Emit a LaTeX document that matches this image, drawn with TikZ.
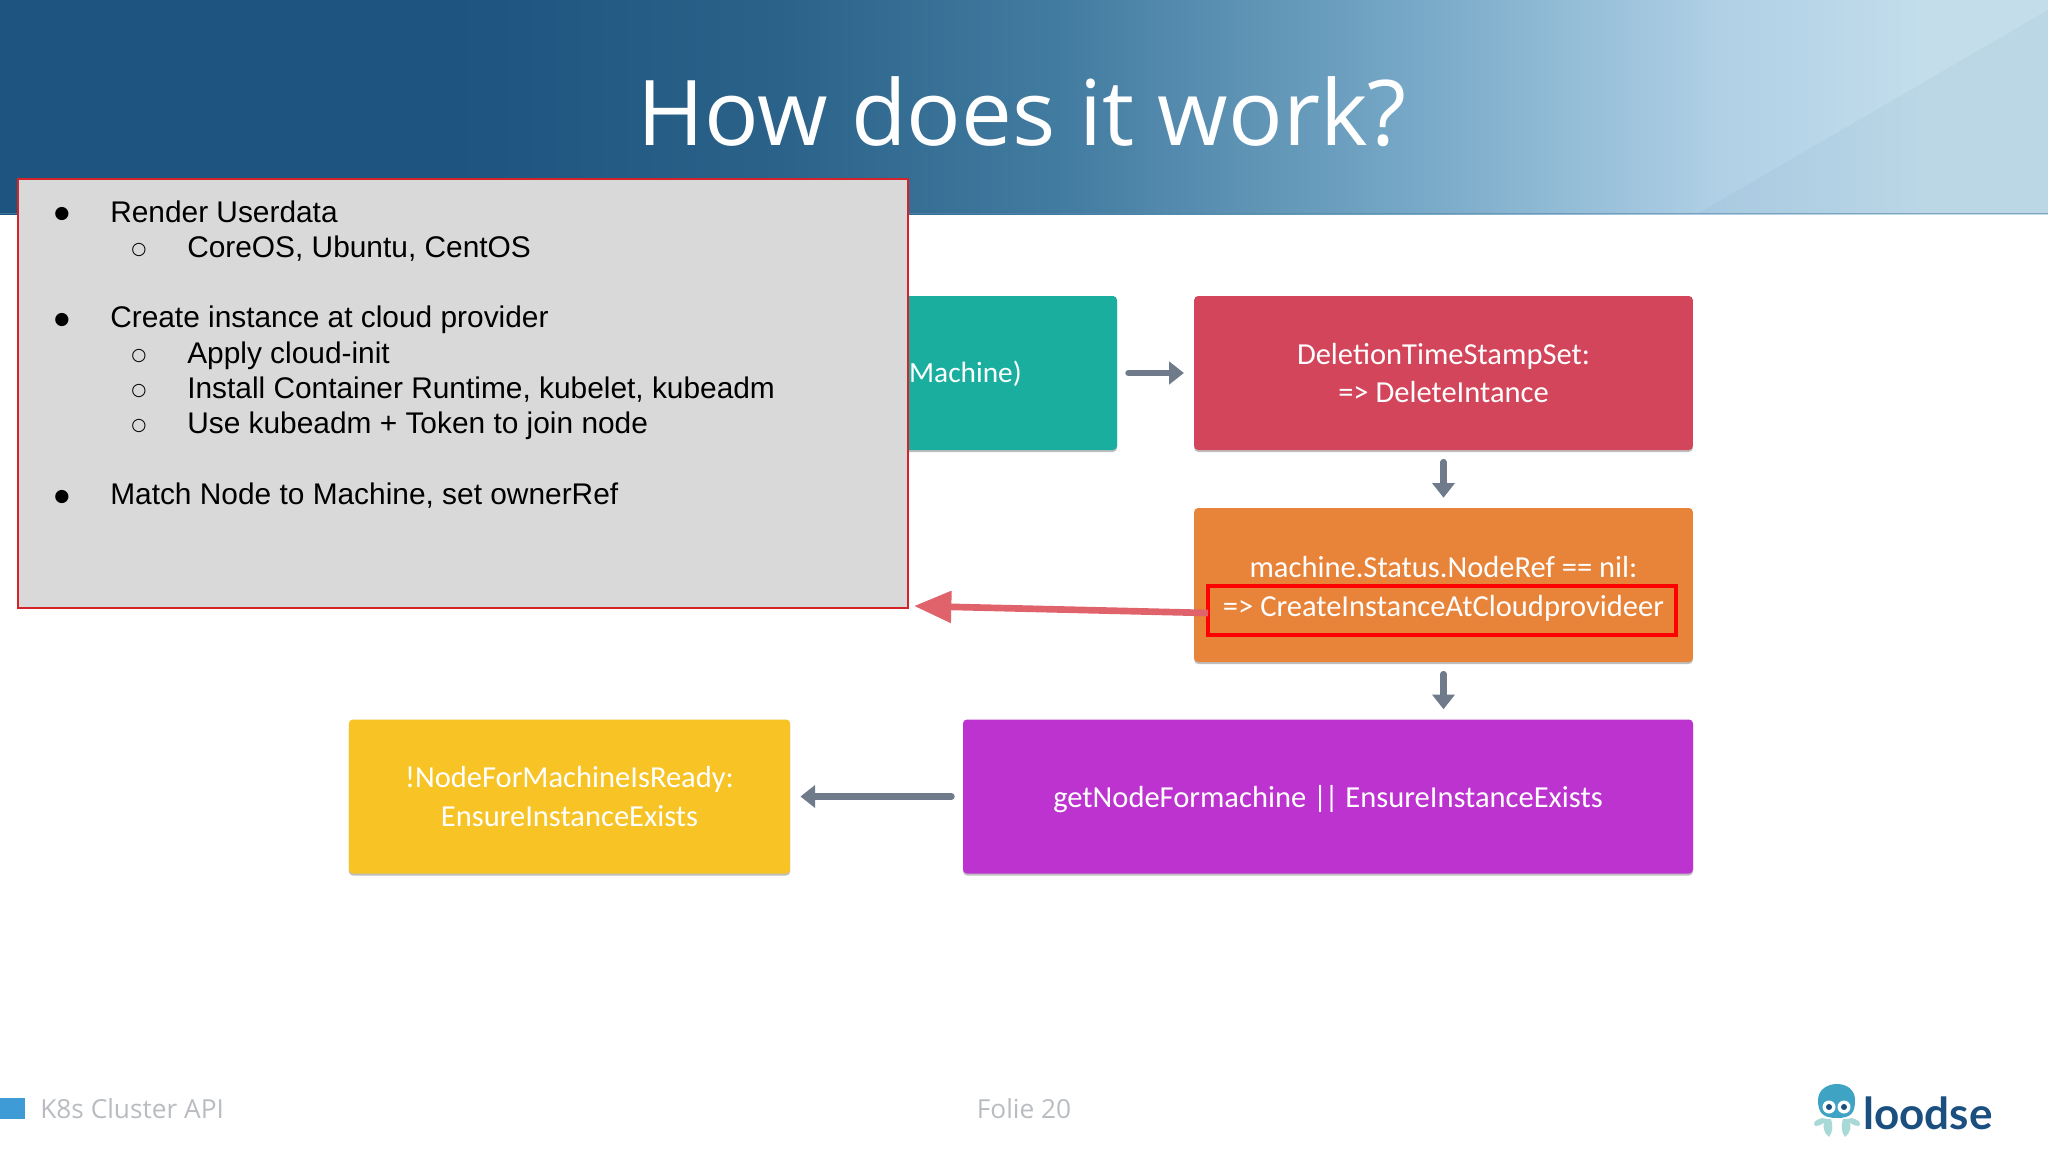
\documentclass[tikz,border=0pt]{standalone}
\usepackage{fontspec}
\setmainfont{Liberation Sans}
\newfontfamily\titlefont{Open Sans}
\newfontfamily\dinfont{Carlito}
\newfontfamily\symfont{DejaVu Sans}
\newfontfamily\logofont{Lato}
\usetikzlibrary{arrows.meta,shadows}
\definecolor{hdA}{HTML}{1D5480}
\definecolor{hdB}{HTML}{2A6289}
\definecolor{hdC}{HTML}{437CA1}
\definecolor{hdD}{HTML}{7AABC9}
\definecolor{hdE}{HTML}{B0D0E6}
\definecolor{hdF}{HTML}{C3DDEB}
\definecolor{flowGrey}{HTML}{6F7B8A}
\definecolor{callRed}{HTML}{E0636B}
\definecolor{frameRed}{HTML}{D5232A}
\definecolor{panelGrey}{HTML}{D9D9D9}
\definecolor{tealBox}{HTML}{1AAE9F}
\definecolor{roseBox}{HTML}{D3455B}
\definecolor{orangeBox}{HTML}{E8833A}
\definecolor{purpleBox}{HTML}{BD33D0}
\definecolor{yellowBox}{HTML}{F7C325}
\definecolor{footGrey}{HTML}{B9BDC1}
\definecolor{footBlue}{HTML}{3E9BD6}
\definecolor{logoBlue}{HTML}{1B4F7F}
\definecolor{logoTeal}{HTML}{3FA3C4}
\definecolor{logoMint}{HTML}{A9D9D6}
\pgfdeclarehorizontalshading{headband}{100bp}{
  color(0bp)=(hdA); color(36bp)=(hdA); color(44bp)=(hdB); color(51bp)=(hdC);
  color(60bp)=(hdD); color(67bp)=(hdE); color(72bp)=(hdF); color(100bp)=(hdF)}
\tikzset{
  flowbox/.style={rounded corners=3pt,minimum height=115.5pt,inner sep=0pt,align=center,
    text=white,font=\dinfont\fontsize{22.9}{29}\selectfont,
    drop shadow={shadow xshift=0pt,shadow yshift=-1.5pt,opacity=.25,fill=black}},
  flowarrow/.style={draw=flowGrey,line width=5pt,line cap=round,-{Triangle[length=11pt,width=16.5pt]}},
  bodytext/.style={anchor=base west,inner sep=0pt,font=\fontsize{22.4}{26}\selectfont,text=black},
  bulletmark/.style={anchor=base,inner sep=0pt,font=\symfont\fontsize{13}{16}\selectfont,text=black},
  foot/.style={inner sep=0pt,text=footGrey,font=\titlefont\fontsize{19.7}{24}\selectfont},
  x=0.75pt,y=-0.75pt
}
\begin{document}
\begin{tikzpicture}
\useasboundingbox (0,0) rectangle (2048,1152);
\fill[white] (0,0) rectangle (2048,1152);
% header
\shade[shading=headband] (0,0) rectangle (2048,214);
\fill[hdC,opacity=.06] (1697,214) -- (2048,10) -- (2048,214) -- cycle;
\fill[hdA!60!hdE,opacity=.6] (0,212.5) rectangle (2048,214);
\node[inner sep=0pt,text=white,font=\titlefont\fontsize{68}{80}\selectfont] (title) at (1022,112) {How does it work?};
% flow boxes
\node[flowbox,fill=tealBox,minimum width=300pt] (teal) at (917,373) {};
\node[flowbox,fill=roseBox,minimum width=374pt] (rose) at (1443.5,373) {DeletionTimeStampSet:\\=> DeleteIntance};
\node[flowbox,fill=orangeBox,minimum width=374pt] (orange) at (1443.5,585) {\rule{0pt}{21.5pt}machine.Status.NodeRef == nil:\\[0pt]=> CreateInstanceAtCloudprovideer};
\node[flowbox,fill=purpleBox,minimum width=547.5pt] (purple) at (1328,796.5) {\rule{0pt}{20.8pt}getNodeFormachine |\kern-2pt| EnsureInstanceExists};
\node[flowbox,fill=yellowBox,minimum width=331pt] (yellow) at (569.5,796.5) {!NodeForMachineIsReady:\\EnsureInstanceExists};
\node[inner sep=0pt,anchor=east,text=white,font=\dinfont\fontsize{22}{29}\selectfont] (machine) at (1022,374) {Machine)};
% connectors
\draw[flowarrow] ([xshift=8.5pt]teal.east) -- ([xshift=-7.5pt]rose.west);
\draw[flowarrow] ([yshift=-9pt]rose.south) -- ([yshift=7.5pt]orange.north);
\draw[flowarrow] ([yshift=-9pt]orange.south) -- ([yshift=7.5pt]orange.south |- purple.north);
\draw[flowarrow] ([xshift=-8.5pt]purple.west) -- ([xshift=7.5pt]yellow.east);
% call-out panel
\node[draw=frameRed,line width=1.5pt,fill=panelGrey,inner sep=0pt,minimum width=667pt,minimum height=321.5pt] (panel) at (463,393.5) {};
\node[draw=red,line width=2.8pt,inner sep=0pt,minimum width=351pt,minimum height=36.75pt] (hilite) at (1442,610.5) {};
\coordinate (calltail) at (1208,613);
\coordinate (calltip) at (914,606);
\draw[draw=callRed,line width=5pt,-{Triangle[length=28pt,width=23pt]}] (calltail) -- (calltip);
% bullet text
\node[bulletmark] (b1) at (62,219) {●};
\node[bodytext] (t1) at (110,222) {Render Userdata};
\node[bulletmark] (b2) at (139,254) {○};
\node[bodytext] (t2) at (187,257) {CoreOS, Ubuntu, CentOS};
\node[bulletmark] (b3) at (62,324) {●};
\node[bodytext] (t3) at (110,327) {Create instance at cloud provider};
\node[bulletmark] (b4) at (139,360) {○};
\node[bodytext] (t4) at (187,363) {Apply cloud-init};
\node[bulletmark] (b5) at (139,395) {○};
\node[bodytext] (t5) at (187,398) {Install Container Runtime, kubelet, kubeadm};
\node[bulletmark] (b6) at (139,430) {○};
\node[bodytext] (t6) at (187,433) {Use kubeadm + Token to join node};
\node[bulletmark] (b7) at (62,501) {●};
\node[bodytext] (t7) at (110,504) {Match Node to Machine, set ownerRef};
% footer
\fill[footBlue] (0,1098) rectangle (25,1119);
\node[foot,anchor=west] (fl) at (40,1109) {K8s Cluster API};
\node[foot] (fm) at (1024,1109) {Folie 20};
% logo
\fill[logoMint] (1822,1118) .. controls (1816,1120) and (1812,1122) .. (1815,1126) .. controls (1820,1126) and (1825,1123) .. (1827,1119) -- cycle;
\fill[logoMint] (1852,1118) .. controls (1858,1120) and (1862,1122) .. (1859,1126) .. controls (1854,1126) and (1849,1123) .. (1847,1119) -- cycle;
\fill[logoMint] (1826,1119) .. controls (1821,1126) and (1824,1133) .. (1829,1137) .. controls (1833,1132) and (1833,1125) .. (1831,1119) -- cycle;
\fill[logoMint] (1848,1119) .. controls (1853,1126) and (1850,1133) .. (1845,1137) .. controls (1841,1132) and (1841,1125) .. (1843,1119) -- cycle;
\fill[logoTeal] (1818,1100) .. controls (1818,1090) and (1827,1084) .. (1837,1084) .. controls (1847,1084) and (1855,1090) .. (1855,1100) .. controls (1855,1112) and (1852,1118) .. (1837,1118) .. controls (1822,1118) and (1818,1112) .. (1818,1100) -- cycle;
\fill[white] (1829,1107) circle[radius=6.5];
\fill[white] (1844,1107) circle[radius=6.5];
\fill[logoBlue] (1829,1107) circle[radius=3];
\fill[logoBlue] (1844,1107) circle[radius=3];
\node[inner sep=0pt,anchor=base west,text=logoBlue,font=\logofont\bfseries\fontsize{33}{36}\selectfont] (logo) at (1863,1129) {loodse};
\end{tikzpicture}
\end{document}
